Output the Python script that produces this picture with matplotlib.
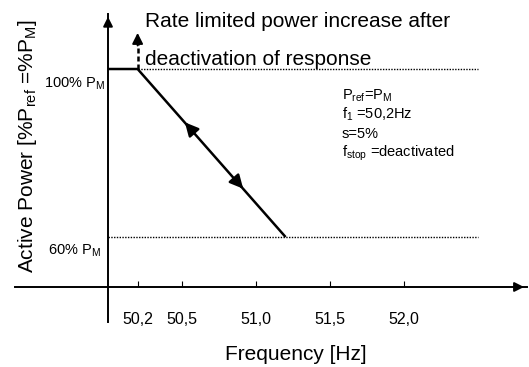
import matplotlib
matplotlib.use("Agg")
import matplotlib.pyplot as plt

plt.rcParams['font.family'] = ['Liberation Sans', 'DejaVu Sans']
plt.rcParams['mathtext.fontset'] = 'custom'
plt.rcParams['mathtext.rm'] = 'Liberation Sans'
plt.rcParams['mathtext.it'] = 'Liberation Sans'

# response curve: frequency [Hz] vs active power [% P_M]
freq = [50.0, 50.2, 51.2]
power = [100, 100, 60]
f_dotted_end = 52.5
f_up_arrow = 50.2
p_up_arrow_tip = 108.6
arrow_up_tip = (50.507, 87.8)
arrow_down_tip = (50.926, 71.0)

xticks = [50.2, 50.5, 51.0, 51.5, 52.0]
xtick_labels = ["50,2", "50,5", "51,0", "51,5", "52,0"]

x_origin = 50.0
y_origin = 48.1
x_axis_range = (49.37, 52.83)
y_axis_range = (39.8, 113.1)

W, H = 529, 367
fig = plt.figure(figsize=(W / 100, H / 100), dpi=100)
ax = fig.add_axes([0, 0, 1, 1])
ax.set_xlim(49.27, 52.845)
ax.set_ylim(29.05, 116.43)
ax.patch.set_alpha(0)


def px(x, y):
    return x / W, 1 - y / H


# axes
for s in ['top', 'right']:
    ax.spines[s].set_visible(False)
ax.spines['left'].set_position(('data', x_origin))
ax.spines['bottom'].set_position(('data', y_origin))
ax.spines['left'].set_bounds(*y_axis_range)
ax.spines['bottom'].set_bounds(*x_axis_range)
ax.spines['left'].set_linewidth(1.4)
ax.spines['bottom'].set_linewidth(1.4)
ax.set_yticks([])
ax.set_xticks(xticks)
ax.set_xticklabels(xtick_labels, fontsize=11.5)
ax.tick_params(axis='x', direction='in', length=4, width=0.8, pad=18)

# axis arrowheads
ax.annotate('', xy=(x_origin, y_axis_range[1]), xytext=(x_origin, y_axis_range[1] - 3),
            arrowprops=dict(arrowstyle='-|>', color='black', lw=1.4, mutation_scale=14))
ax.annotate('', xy=(x_axis_range[1], y_origin), xytext=(x_axis_range[1] - 0.08, y_origin),
            arrowprops=dict(arrowstyle='-|>', color='black', lw=1.4, mutation_scale=14))

# dotted limits
ax.plot([freq[1], f_dotted_end], [power[1], power[1]], color='black', lw=1, ls=(0, (1, 1)))
ax.plot([x_origin, f_dotted_end], [power[2], power[2]], color='black', lw=1, ls=(0, (1, 1)))

# response curve
ax.plot(freq, power, color='black', lw=1.8, solid_capstyle='butt')

# direction arrowheads on the slope
slope = (power[2] - power[1]) / (freq[2] - freq[1])
dx = 0.05
ax.annotate('', xy=arrow_up_tip, xytext=(arrow_up_tip[0] + dx, arrow_up_tip[1] + slope * dx),
            arrowprops=dict(arrowstyle='-|>', color='black', lw=1.8, mutation_scale=20))
ax.annotate('', xy=arrow_down_tip, xytext=(arrow_down_tip[0] - dx, arrow_down_tip[1] - slope * dx),
            arrowprops=dict(arrowstyle='-|>', color='black', lw=1.8, mutation_scale=20))

# dashed vertical arrow (rate limited increase)
ax.plot([f_up_arrow, f_up_arrow], [power[1], p_up_arrow_tip - 2], color='black',
        lw=1.8, ls=(0, (2, 1.2)))
ax.annotate('', xy=(f_up_arrow, p_up_arrow_tip), xytext=(f_up_arrow, p_up_arrow_tip - 3),
            arrowprops=dict(arrowstyle='-|>', color='black', lw=1.4,
                            mutation_scale=16, shrinkA=0, shrinkB=0))

# texts
tr = ax.transAxes
ax.text(*px(145, 27), 'Rate limited power increase after', transform=tr,
        fontsize=15, va='baseline', ha='left')
ax.text(*px(145, 65), 'deactivation of response', transform=tr,
        fontsize=15, va='baseline', ha='left')
ax.text(*px(28, 146), r'Active Power [%P$_{\mathregular{ref}}$ =%P$_{\mathregular{M}}$]',
        transform=tr, fontsize=15, rotation=90, ha='center', va='center')
ax.text(*px(105, 84), r'100% P$_{\mathregular{M}}$', transform=tr, fontsize=10.5,
        ha='right', va='center')
ax.text(*px(101, 251), r'60% P$_{\mathregular{M}}$', transform=tr, fontsize=10.5,
        ha='right', va='center')
ax.text(*px(296, 355), 'Frequency [Hz]', transform=tr, fontsize=15, ha='center', va='center')

info = [r'P$_{\mathregular{ref}}$=P$_{\mathregular{M}}$',
        r'f$_{\mathregular{1}}$ =50,2Hz',
        's=5%',
        r'f$_{\mathregular{stop}}$ =deactivated']
for i, line in enumerate(info):
    ax.text(*px(342, 100 + 19 * i), line, transform=tr, fontsize=10.5,
            ha='left', va='baseline')

fig.savefig('out.png', dpi=100)
